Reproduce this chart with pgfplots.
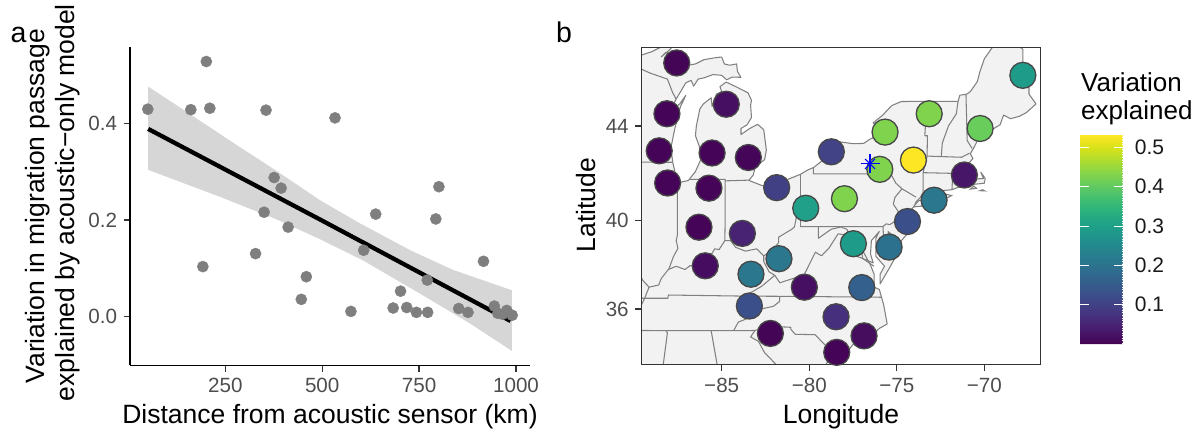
\documentclass[border=0pt]{standalone}
\usepackage{fontspec}
\setmainfont{Liberation Sans}
\usepackage{pgfplots}
\usepackage{pgfplotstable}
\pgfplotsset{compat=1.18}

\definecolor{ptgray}{HTML}{7F7F7F}
\definecolor{ribbon}{HTML}{999999}
\definecolor{ticktext}{HTML}{4D4D4D}
\definecolor{frame}{HTML}{333333}
\definecolor{land}{HTML}{F2F2F2}
\definecolor{border}{HTML}{808080}
\definecolor{ring}{HTML}{474747}

\newcommand{\fs}[1]{\fontsize{#1}{#1}\selectfont}

% panel a: distance, variation
\pgfplotstableread{
x y
50 .430
161 .429
201 .529
210 .432
192 .103
355 .428
533 .412
376 .288
394 .266
350 .216
412 .185
328 .130
459 .082
446 .035
574 .010
607 .137
638 .212
793 .202
801 .269
683 .017
718 .018
702 .052
743 .008
772 .008
771 .075
852 .016
876 .008
916 .114
944 .021
953 .006
976 .012
965 .004
990 .002
}\passage

% panel b: sites
\pgfplotstableread{
lon lat v
-87.57 46.54 .005
-88.13 44.50 .004
-88.57 42.97 .004
-88.09 41.61 .004
-84.74 44.89 .020
-85.55 42.88 .004
-83.48 42.69 .006
-85.73 41.39 .004
-81.86 41.41 .100
-78.74 42.93 .105
-80.20 40.52 .300
-67.80 46.05 .290
-73.15 44.50 .430
-75.67 43.75 .430
-70.24 43.90 .410
-74.05 42.58 .531
-75.97 42.19 .430
-71.14 41.95 .030
-77.99 40.93 .430
-72.87 40.87 .210
-86.30 39.69 .004
-83.82 39.42 .050
-81.73 38.29 .210
-85.94 37.97 .016
-83.33 37.59 .210
-80.28 37.00 .020
-83.42 36.14 .130
-82.22 34.86 .005
-74.39 39.94 .130
-77.48 38.96 .290
-75.44 38.81 .200
-77.00 36.98 .160
-78.47 35.64 .070
-76.87 34.75 .015
-78.43 33.97 .004
}\sites

\begin{document}
\begin{tikzpicture}
\useasboundingbox (0,0) rectangle (1198pt,432pt);

\begin{axis}[
    at={(130pt,66.7pt)}, anchor=south west,
    scale only axis, width=400pt, height=318.7pt,
    xmin=4.1, xmax=1036, ymin=-0.102, ymax=0.560,
    axis lines*=left,
    axis line style={-, black, line width=1.5pt},
    tick align=outside,
    tick style={black!80, line width=1.3pt},
    major tick length=6.5pt,
    xtick={250,500,750,1000}, xticklabels={250,500,750,1000},
    ytick={0,0.2,0.4}, yticklabels={0.0,0.2,0.4},
    tick label style={font=\fs{20.6}, color=ticktext},
    xticklabel style={anchor=base, yshift=-20.9pt},
    yticklabel style={xshift=-3pt},
    xlabel={Distance from acoustic sensor (km)},
    xlabel style={font=\fs{26.5}, at={(axis description cs:0.5,-0.182)}, anchor=base},
    ylabel={Variation in migration passage\hspace*{7pt}\\explained by acoustic−only model},
    ylabel style={font=\fontsize{26.5}{30}\selectfont, align=center,
        at={(axis description cs:-0.19375,0.5105)}, anchor=center},
    clip=false,
]
\addplot[only marks, mark=*, mark size=5.6pt, color=ptgray] table[x=x,y=y] {\passage};
\addplot[draw=none, fill=ribbon, fill opacity=.4] coordinates {
 (51,.477)(150,.4245)(250,.371)(357,.315)(430,.276)(494,.241)(597,.193)(727,.137)(838,.096)(989,.054)
 (989,-.072)(881,-.015)(752,.047)(605,.116)(494,.160)(380,.202)(236,.248)(51,.304)
} --cycle;
\addplot[black, line width=4.3pt, no marks] coordinates {(51,.389)(494,.201)(986,-.010)};
\end{axis}

\begin{axis}[
    at={(641.7pt,67.3pt)}, anchor=south west,
    scale only axis, width=399pt, height=317.4pt,
    xmin=-89.57, xmax=-66.78, ymin=33.38, ymax=47.15,
    y coord trafo/.code={\pgfmathparse{57.29578*ln(tan(45+#1/2))}},
    axis line style={frame, line width=1.5pt},
    axis on top,
    tick align=outside, tick pos=lower,
    tick style={frame, line width=1.3pt},
    major tick length=6.5pt,
    xtick={-85,-80,-75,-70}, xticklabels={−85,−80,−75,−70},
    ytick={36,40,44}, yticklabels={36,40,44},
    tick label style={font=\fs{20.6}, color=ticktext},
    xticklabel style={anchor=base, yshift=-21pt},
    yticklabel style={xshift=-3pt},
    xlabel={Longitude}, ylabel={Latitude},
    xlabel style={font=\fs{26.5}, at={(axis description cs:0.4995,-0.1868)}, anchor=base},
    ylabel style={font=\fs{26.5}, at={(axis description cs:-0.14,0.503)}, anchor=center},
    colormap/viridis,
    point meta min=0, point meta max=0.531,
    colorbar,
    colorbar sampled,
    colorbar style={
        at={(1.0985,0.0652)}, anchor=south west,
        scale only axis, width=42.7pt, height=209pt,
        samples=128,
        axis on top,
        axis line style={draw=none},
        ymin=0, ymax=0.531,
        ytick={0.1,0.2,0.3,0.4,0.5}, yticklabels={0.1,0.2,0.3,0.4,0.5},
        tick align=inside, ytick pos=both, yticklabel pos=right,
        major tick length=8.5pt,
        tick style={white, line width=.8pt},
        yticklabel style={font=\fs{21}, color=black!90, xshift=8.7pt},
    },
    borderline/.style={border, line width=1.05pt, no marks, line join=round},
]
% land outline, clockwise from Lake Superior
\addplot[draw=border, fill=land, line width=1.05pt, line join=round] coordinates {
(-90,46.7)(-89.57,46.85)(-89,46.98)(-88.5,47.15)(-88.2,47.4)(-87.8,47.47)(-87.9,47.1)(-88.45,46.78)(-88.2,46.95)
(-87.7,46.83)(-87.38,46.52)(-86.9,46.45)(-86.5,46.5)(-86,46.67)(-85.3,46.75)(-85,46.77)(-84.85,46.5)(-84.55,46.45)
(-84.15,46.5)(-84.1,46.2)(-83.9,45.97)(-84.4,45.98)(-84.72,45.87)(-85,46.05)(-85.5,46.08)(-86,45.95)(-86.35,45.9)
(-86.6,45.62)(-86.75,45.85)(-87.05,45.75)(-87.6,45.1)(-88,44.55)(-87.4,44.9)(-87.05,45.25)(-87.35,44.8)(-87.55,44.3)
(-87.72,43.75)(-87.9,43.1)(-87.8,42.5)(-87.6,41.85)(-87.4,41.63)(-86.9,41.72)(-86.5,42.1)(-86.2,42.6)(-86.25,43.1)
(-86.5,43.6)(-86.45,44)(-86.25,44.7)(-86.05,44.9)(-85.6,45.15)(-85.55,44.8)(-85.3,45.3)(-85,45.4)(-85.1,45.6)
(-84.75,45.78)(-84.2,45.6)(-83.5,45.35)(-83.3,45.05)(-83.35,44.85)(-83.3,44.35)(-83.55,44.05)(-83.9,43.9)(-83.9,43.65)
(-83.4,43.9)(-82.95,44.07)(-82.6,43.85)(-82.45,43)(-82.55,42.6)(-82.9,42.4)(-83.1,42.25)(-83.2,41.95)(-83.45,41.72)
(-82.7,41.5)(-82,41.5)(-81.7,41.5)(-81.2,41.77)(-80.5,41.98)(-80.1,42.16)(-79.75,42.27)(-79.1,42.65)(-78.9,42.87)
(-79.05,43.27)(-78.5,43.37)(-77.5,43.27)(-76.9,43.28)(-76.5,43.47)(-76.2,43.55)(-76.2,44)(-76.35,44.13)(-75.8,44.45)
(-75.3,44.83)(-74.75,45)(-73.35,45.01)(-72.5,45.01)(-71.5,45.01)(-71.4,45.25)(-71,45.3)(-70.8,45.4)(-70.4,45.8)
(-70.25,46.2)(-70,46.7)(-69.22,47.46)(-68.3,47.36)(-67.8,47.07)(-67.79,45.7)(-67.45,45.6)(-67.45,45.3)(-67.05,44.9)
(-67.6,44.55)(-68,44.4)(-68.5,44.3)(-68.9,44.45)(-69.1,44.05)(-69.8,43.75)(-70.25,43.6)(-70.6,43.1)(-70.8,42.85)
(-70.65,42.65)(-71,42.35)(-70.65,41.95)(-70.55,41.78)(-70.05,41.8)(-70.2,42.07)(-69.95,41.8)(-70,41.6)(-70.65,41.55)
(-71.15,41.48)(-71.4,41.45)(-71.85,41.32)(-72.9,41.25)(-73.65,40.99)(-73.9,40.8)(-74,40.6)(-74.2,40.45)(-74,40.4)
(-74.1,39.75)(-74.4,39.4)(-74.9,38.95)(-75,39.2)(-75.5,39.5)(-75.4,39.1)(-75.1,38.8)(-75.05,38.4)(-75.4,37.9)
(-75.95,37.15)(-75.95,37.6)(-75.7,37.95)(-76.2,38.4)(-76.2,39.2)(-76,39.5)(-76.45,39.1)(-76.5,38.5)(-76.35,38.1)
(-76.95,38.3)(-77.05,38.8)(-76.5,38)(-76.3,37.6)(-76.3,37)(-76,36.9)(-75.75,36.2)(-75.55,35.3)(-76,35.1)(-76.55,34.65)
(-77.3,34.55)(-77.95,33.87)(-78.55,33.85)(-79,33.45)(-79.3,33.1)(-90,33.1)
} --cycle;
% Long Island, Martha's Vineyard, Nantucket
\addplot[draw=border, fill=land, line width=1.05pt] coordinates {
(-74.03,40.6)(-73.75,40.85)(-73.1,40.97)(-72.6,40.98)(-72.3,41.15)(-71.87,41.07)(-72.5,40.82)(-73.3,40.63)(-74.03,40.58)
} --cycle;
\addplot[draw=border, fill=land, line width=1.05pt] coordinates {(-70.8,41.35)(-70.45,41.38)(-70.6,41.48)} --cycle;
\addplot[draw=border, fill=land, line width=1.05pt] coordinates {(-70.25,41.28)(-69.97,41.27)(-70.1,41.32)} --cycle;
% state lines
\addplot[borderline] coordinates {(-90.4,46.55)(-89.1,46.14)(-88.1,45.9)(-87.8,45.35)(-87.6,45.1)};
\addplot[borderline] coordinates {(-90.6,42.5)(-87.8,42.49)};
\addplot[borderline] coordinates {(-87.53,41.7)(-87.53,39.35)(-87.6,39.1)(-87.5,38.75)(-87.75,38.4)(-88.03,37.8)};
\addplot[borderline] coordinates {(-89.9,37.9)(-89.5,37.3)(-89.15,37)(-88.6,37.1)(-88.45,37.4)(-88.05,37.8)(-87.6,37.95)(-87.1,37.8)
 (-86.8,37.98)(-86.5,37.93)(-86.3,38.15)(-85.9,38.02)(-85.75,38.27)(-85.4,38.73)(-85.15,38.7)(-84.82,39.1)(-84.5,39.1)(-84.2,38.8)
 (-83.65,38.63)(-83,38.73)(-82.6,38.42)(-82.2,38.6)(-81.75,39)(-81.75,39.25)(-81,39.6)(-80.85,39.7)(-80.6,40.6)(-80.52,40.64)};
\addplot[borderline] coordinates {(-89.15,37)(-89.4,36.5)(-89.7,36)};
\addplot[borderline] coordinates {(-84.82,39.1)(-84.8,40.3)(-84.8,41.7)};
\addplot[borderline] coordinates {(-86.82,41.76)(-84.8,41.76)(-84.8,41.7)(-83.45,41.73)};
\addplot[borderline] coordinates {(-80.52,39.72)(-80.52,41.98)};
\addplot[borderline] coordinates {(-80.52,39.72)(-75.79,39.72)(-75.6,39.84)(-75.41,39.8)(-75.1,39.95)(-74.72,40.15)(-75.2,40.7)(-75.1,41)(-74.7,41.36)};
\addplot[borderline] coordinates {(-79.76,42.27)(-79.76,42)(-75.35,42)(-75.05,41.6)(-74.7,41.36)(-73.9,41)};
\addplot[borderline] coordinates {(-73.65,41)(-73.5,41.2)(-73.5,42.05)(-73.27,42.75)(-73.25,43.6)(-73.4,43.6)(-73.35,44.2)(-73.35,45.01)};
\addplot[borderline] coordinates {(-72.46,42.73)(-72.4,43.3)(-72.05,44)(-71.6,44.5)(-71.5,45.01)};
\addplot[borderline] coordinates {(-73.27,42.75)(-71.3,42.7)(-70.85,42.87)};
\addplot[borderline] coordinates {(-73.5,42.05)(-71.8,42.02)(-71.38,42.02)(-71.35,41.9)(-71.15,41.5)};
\addplot[borderline] coordinates {(-71.8,42.02)(-71.85,41.32)};
\addplot[borderline] coordinates {(-71.05,45.3)(-70.98,43.4)(-70.7,43.07)};
\addplot[borderline] coordinates {(-75.79,39.72)(-75.7,38.46)(-75.05,38.45)};
\addplot[borderline] coordinates {(-79.48,39.72)(-79.48,39.2)(-78.75,39.6)(-78.2,39.7)(-77.85,39.6)(-77.72,39.32)(-77.45,39.2)(-77.05,38.85)(-77.3,38.4)(-76.95,38.3)(-76.3,37.95)};
\addplot[borderline] coordinates {(-77.72,39.32)(-78.35,39.4)(-78.87,38.77)(-79.3,38.42)(-79.65,38.58)(-80.3,37.55)(-81.3,37.3)(-81.68,37.2)(-81.97,37.54)};
\addplot[borderline] coordinates {(-82.6,38.42)(-82.6,38.17)(-82.3,37.7)(-81.97,37.54)(-82.7,37.05)(-83.68,36.6)};
\addplot[borderline] coordinates {(-83.68,36.6)(-88.05,36.65)(-88.07,36.5)(-89.57,36.5)};
\addplot[borderline] coordinates {(-83.68,36.6)(-81.68,36.59)(-75.87,36.55)};
\addplot[borderline] coordinates {(-81.68,36.59)(-81.7,36.35)(-82.05,36.12)(-82.6,36.03)(-82.9,35.95)(-83.5,35.57)(-84.05,35.4)(-84.32,34.99)};
\addplot[borderline] coordinates {(-90,35)(-84.32,34.99)(-83.1,35)};
\addplot[borderline] coordinates {(-83.1,35)(-82.3,35.2)(-81.05,35.15)(-81.05,35.05)(-80.8,34.82)(-79.67,34.8)(-78.55,33.85)};
\addplot[borderline] coordinates {(-83.1,35)(-83.35,34.7)(-82.9,34.48)(-82.55,33.95)(-81.9,33.4)(-81.7,33.1)};
\addplot[borderline] coordinates {(-88.2,35)(-88.1,34.9)(-88.4,33)};
\addplot[borderline] coordinates {(-85.6,34.98)(-85.18,33)};
% sites
\addplot[scatter, only marks, mark=*, mark size=13pt, scatter src=explicit,
    mark options={line width=1.3pt},
    scatter/use mapped color={draw=ring, fill=mapped color}]
    table[x=lon,y=lat,meta=v] {\sites};
% radar
\addplot[only marks, mark=+, mark size=9.5pt, blue, mark options={line width=1.2pt}] coordinates {(-76.53,42.42)};
\addplot[only marks, mark=x, mark size=7pt, blue, mark options={line width=1.2pt}] coordinates {(-76.53,42.42)};
\end{axis}

\node[anchor=base west, font=\fs{28.5}, inner sep=0pt] at (10.5pt,389pt) {a};
\node[anchor=base west, font=\fs{28.5}, inner sep=0pt] at (556pt,389pt) {b};
\node[anchor=base west, font=\fs{26}, inner sep=0pt] at (1081pt,340.3pt) {Variation};
\node[anchor=base west, font=\fs{26}, inner sep=0pt] at (1081pt,312.7pt) {explained};
\end{tikzpicture}
\end{document}
